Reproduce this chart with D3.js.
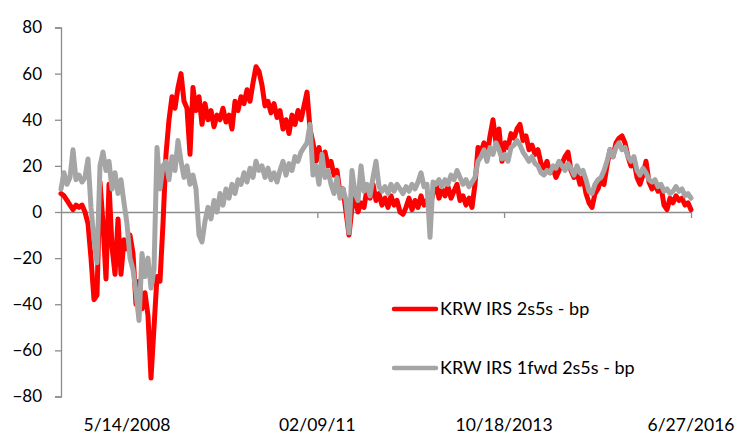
<!DOCTYPE html>
<html>
<head>
<meta charset="utf-8">
<script src="https://cdn.jsdelivr.net/npm/d3@7"></script>
<style>
  body { margin: 0; background: #fff; }
  text { font-family: Lato, "Open Sans", sans-serif; fill: #000; }
</style>
</head>
<body>
<svg id="chart" width="753" height="445"></svg>
<script>
// KRW IRS 2s5s - bp, sampled evenly from start to end
const startDate = "2007-06-02";
const endDate = "2016-06-27";

const red2s5s = [
  8, 7, 5, 3, 1, 3, 2, 3, 0, -5,
  -20, -38, -36, 13, -5, -29, 12, -15, -27, -3,
  -27, -12, -16, -10, -18, -40, -30, -42, -35, -45,
  -72, -50, -28, -30, -5, 25, 40, 50, 45, 54,
  60, 48, 45, 25, 54, 44, 50, 38, 47, 40,
  44, 37, 42, 40, 45, 39, 42, 36, 48, 44,
  50, 47, 53, 48, 56, 63, 61, 55, 46, 48,
  43, 47, 41, 44, 36, 40, 34, 42, 38, 44,
  40, 46, 52, 36, 30, 22, 28, 20, 26, 20,
  22, 16, 18, 8, 10, 0, -10, 2, 6, 0,
  4, 2, 10, 6, 12, 5, 8, 3, 6, 2,
  7, 3, 5, 0, -1, 2, 6, 1, 5, 2,
  7, 3, 5, 3, 8, 12, 6, 10, 7, 11,
  6, 9, 12, 5, 7, 3, 6, 2, 12, 28,
  26, 30, 24, 33, 40, 30, 36, 22, 30, 28,
  34, 32, 36, 38, 31, 33, 27, 29, 25, 27,
  21, 19, 22, 17, 19, 15, 18, 21, 24, 26,
  18, 15, 17, 12, 15, 8, 4, 2, 8, 10,
  14, 12, 20, 27, 24, 30, 32, 33, 30, 24,
  20, 22, 15, 12, 16, 22, 13, 10, 12, 9,
  11, 3, 1, 6, 4, 7, 5, 6, 3, 4,
  1
];

// KRW IRS 1fwd 2s5s - bp
const gray1fwd = [
  10, 17, 12, 15, 27, 14, 16, 13, 15, 23,
  2, -12, -22, 20, 26, 18, 22, 10, 17, 8,
  14, 4, -5, -20, -25, -35, -47, -18, -28, -20,
  -33, -25, 28, 10, 20, 22, 14, 24, 18, 31,
  22, 15, 20, 12, 16, 10, -10, -13, -4, 2,
  -3, 5, 0, 8, 3, 10, 6, 12, 8, 14,
  12, 17, 13, 19, 15, 22, 18, 20, 15, 19,
  14, 17, 13, 18, 22, 16, 21, 18, 24, 22,
  26, 28, 30, 38, 16, 20, 12, 25, 15, 18,
  12, 8, 15, 6, 10, 5, -9, 18, 8, 5,
  20, 9, 12, 7, 15, 22, 11, 9, 11, 8,
  12, 9, 12, 10, 8, 11, 9, 12, 10, 13,
  17, 11, 12, -11, 13, 12, 14, 11, 14, 12,
  16, 14, 18, 15, 12, 14, 11, 13, 15, 22,
  24, 27, 22, 28, 25, 30, 27, 23, 25, 22,
  28, 29, 31, 29, 26, 24, 22, 24, 21, 20,
  17, 16, 18, 17, 20, 19, 22, 20, 18, 21,
  19, 16, 20, 17, 18, 14, 9, 8, 12, 14,
  15, 18, 22, 27, 24, 28, 30, 27, 28, 24,
  22, 24, 18, 16, 19, 17, 14, 13, 14, 11,
  12, 9, 10, 8, 9, 11, 9, 10, 7, 8,
  6
];

const tickDates = ["2008-05-14", "2011-02-09", "2013-10-18", "2016-06-27"];
const tickLabels = ["5/14/2008", "02/09/11", "10/18/2013", "6/27/2016"];
const yTicks = [80, 60, 40, 20, 0, -20, -40, -60, -80];
const seriesNames = ["KRW IRS 2s5s - bp", "KRW IRS 1fwd 2s5s - bp"];
const seriesColors = ["#ff0000", "#a5a5a5"];

const parse = d3.timeParse("%Y-%m-%d");
const t0 = parse(startDate), t1 = parse(endDate);
const n = red2s5s.length;
const dates = d3.range(n).map(i => new Date(+t0 + (t1 - t0) * i / (n - 1)));

const svg = d3.select("#chart");

const x = d3.scaleTime().domain([t0, t1]).range([61, 691]);
const y = d3.scaleLinear().domain([-80, 80]).range([396.5, 27.5]);

// y axis
const yAxis = svg.append("g")
  .attr("transform", "translate(61,0)")
  .call(d3.axisLeft(y).tickValues(yTicks).tickSize(6).tickPadding(13));
yAxis.select(".domain").attr("stroke", "#8c8c8c").attr("stroke-width", 1.3);
yAxis.selectAll(".tick line").attr("stroke", "#8c8c8c").attr("stroke-width", 1.3);
yAxis.selectAll(".tick text")
  .attr("font-size", 17).attr("font-family", "Lato, sans-serif").attr("fill", "#000");

// x axis along zero
const xAxis = svg.append("g")
  .attr("transform", `translate(0,${y(0)})`)
  .call(d3.axisBottom(x)
    .tickValues(tickDates.map(parse))
    .tickSize(6)
    .tickSizeOuter(0)
    .tickFormat(() => ""));
xAxis.select(".domain").attr("stroke", "#8c8c8c").attr("stroke-width", 1.3);
xAxis.selectAll(".tick line").attr("stroke", "#8c8c8c").attr("stroke-width", 1.3);

// x labels at the bottom
svg.append("g").selectAll("text")
  .data(tickDates)
  .join("text")
  .attr("x", d => x(parse(d)))
  .attr("y", 431)
  .attr("text-anchor", "middle")
  .attr("font-size", 17.5)
  .text((d, i) => tickLabels[i]);

const line = d3.line()
  .x((d, i) => x(dates[i]))
  .y(d => y(d));

[red2s5s, gray1fwd].forEach((s, k) => {
  svg.append("path")
    .datum(s)
    .attr("fill", "none")
    .attr("stroke", seriesColors[k])
    .attr("stroke-width", 5)
    .attr("stroke-linejoin", "round")
    .attr("stroke-linecap", "round")
    .attr("d", line);
});

// legend
const legend = svg.append("g").attr("transform", "translate(394,309)");
seriesNames.forEach((name, k) => {
  const g = legend.append("g").attr("transform", `translate(0,${k * 59})`);
  g.append("line")
    .attr("x1", 0).attr("x2", 42)
    .attr("stroke", seriesColors[k])
    .attr("stroke-width", 4.5)
    .attr("stroke-linecap", "round");
  g.append("text")
    .attr("x", 46)
    .attr("dy", "0.35em")
    .attr("font-size", 18)
    .text(name);
});
</script>
</body>
</html>
